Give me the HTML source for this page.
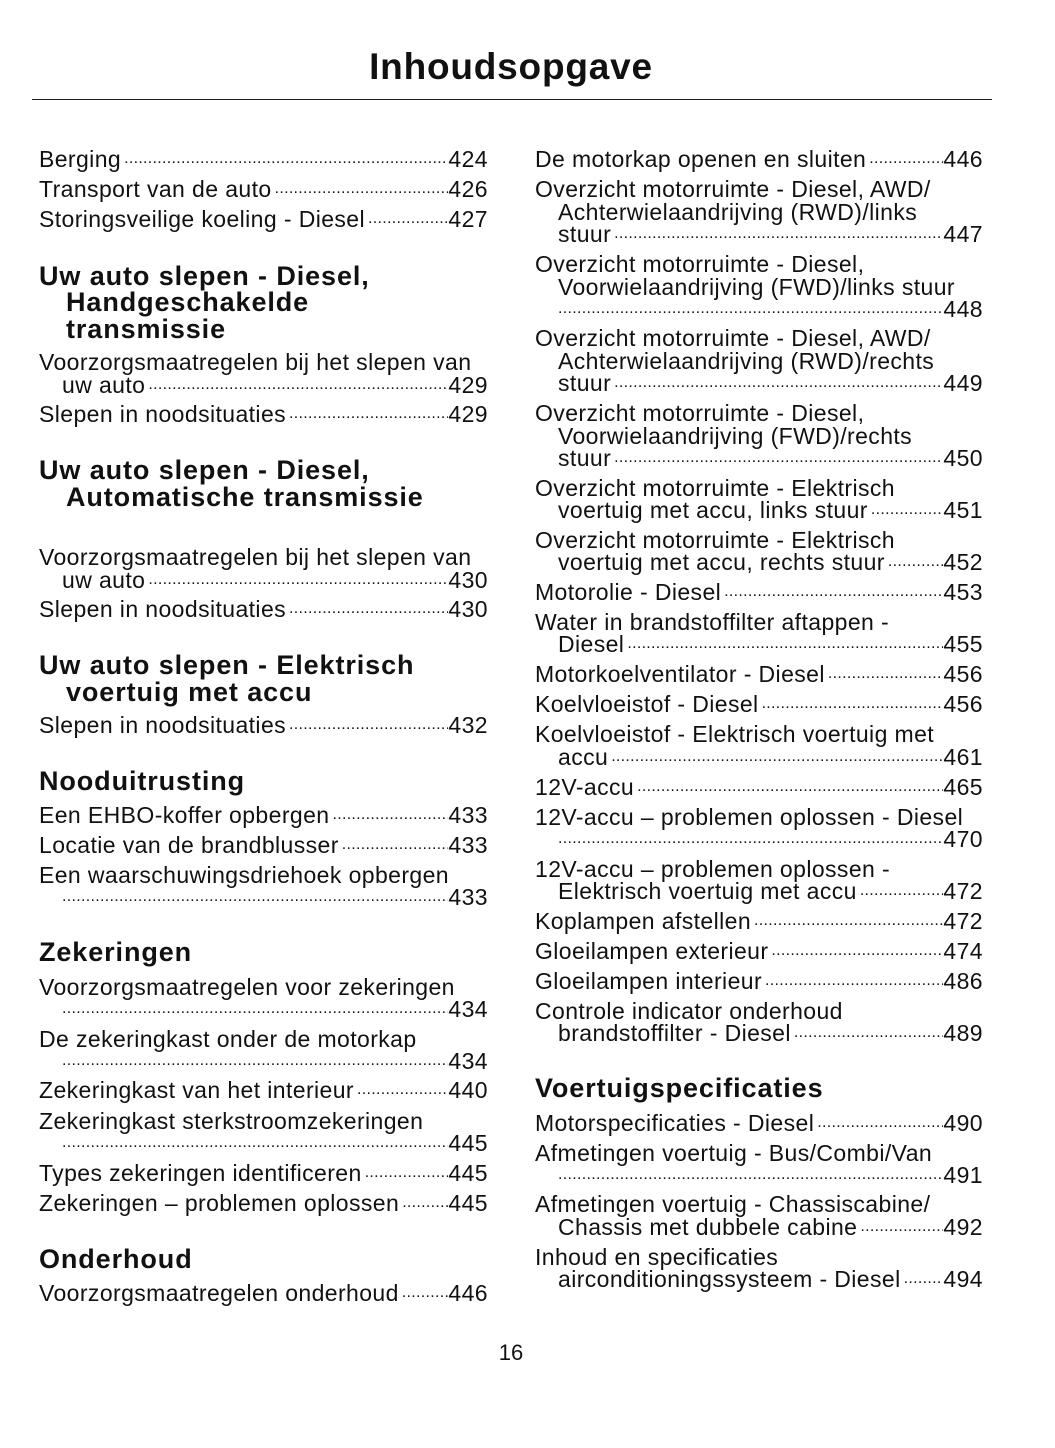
<!DOCTYPE html>
<html><head><meta charset="utf-8">
<style>
body{margin:0;width:1055px;height:1448px;background:#fff;position:relative;font-family:"Liberation Sans",sans-serif;color:#111;overflow:hidden}
.t{position:absolute;left:0;width:1022px;text-align:center;top:45px;font-size:37px;letter-spacing:0.8px;font-weight:bold;line-height:44px}
.rule{position:absolute;left:32px;width:960px;top:99px;height:1px;background:#222}
.l{position:absolute;height:26px;line-height:26px;font-size:23px;letter-spacing:0.4px;white-space:nowrap;display:flex}
.L{left:39px;width:449px}.Li{left:62px;width:426px}
.R{left:535px;width:448px}.Ri{left:558px;width:425px}
.d{flex:1;overflow:hidden;font-size:16px;letter-spacing:0.3px;padding-left:3px}
.h{position:absolute;font-size:27px;letter-spacing:0.9px;font-weight:bold;line-height:30px;white-space:nowrap}
.pn{position:absolute;left:0;width:1022px;text-align:center;top:1340px;font-size:22px}
</style></head><body>
<div class="t">Inhoudsopgave</div>
<div class="rule"></div>

<div class="l L" style="top:146px"><span>Berging</span><span class="d">........................................................................................................................................</span><span>424</span></div>
<div class="l L" style="top:176px"><span>Transport van de auto</span><span class="d">........................................................................................................................................</span><span>426</span></div>
<div class="l L" style="top:206px"><span>Storingsveilige koeling - Diesel</span><span class="d">........................................................................................................................................</span><span>427</span></div>

<div class="h" style="left:39px;top:261px">Uw auto slepen - Diesel,</div>
<div class="h" style="left:66px;top:287px">Handgeschakelde</div>
<div class="h" style="left:66px;top:314px">transmissie</div>
<div class="l L" style="top:349px"><span>Voorzorgsmaatregelen bij het slepen van</span></div>
<div class="l Li" style="top:372px"><span>uw auto</span><span class="d">........................................................................................................................................</span><span>429</span></div>
<div class="l L" style="top:401px"><span>Slepen in noodsituaties</span><span class="d">........................................................................................................................................</span><span>429</span></div>

<div class="h" style="left:39px;top:455px">Uw auto slepen - Diesel,</div>
<div class="h" style="left:66px;top:482px">Automatische transmissie</div>
<div class="l L" style="top:544px"><span>Voorzorgsmaatregelen bij het slepen van</span></div>
<div class="l Li" style="top:567px"><span>uw auto</span><span class="d">........................................................................................................................................</span><span>430</span></div>
<div class="l L" style="top:596px"><span>Slepen in noodsituaties</span><span class="d">........................................................................................................................................</span><span>430</span></div>

<div class="h" style="left:39px;top:650px">Uw auto slepen - Elektrisch</div>
<div class="h" style="left:66px;top:677px">voertuig met accu</div>
<div class="l L" style="top:712px"><span>Slepen in noodsituaties</span><span class="d">........................................................................................................................................</span><span>432</span></div>

<div class="h" style="left:39px;top:766px">Nooduitrusting</div>
<div class="l L" style="top:802px"><span>Een EHBO-koffer opbergen</span><span class="d">........................................................................................................................................</span><span>433</span></div>
<div class="l L" style="top:832px"><span>Locatie van de brandblusser</span><span class="d">........................................................................................................................................</span><span>433</span></div>
<div class="l L" style="top:862px"><span>Een waarschuwingsdriehoek opbergen</span></div>
<div class="l Li" style="top:884px"><span class="d" style="padding-left:0">........................................................................................................................................</span><span>433</span></div>

<div class="h" style="left:39px;top:937px">Zekeringen</div>
<div class="l L" style="top:974px"><span>Voorzorgsmaatregelen voor zekeringen</span></div>
<div class="l Li" style="top:996px"><span class="d" style="padding-left:0">........................................................................................................................................</span><span>434</span></div>
<div class="l L" style="top:1026px"><span>De zekeringkast onder de motorkap</span></div>
<div class="l Li" style="top:1048px"><span class="d" style="padding-left:0">........................................................................................................................................</span><span>434</span></div>
<div class="l L" style="top:1077px"><span>Zekeringkast van het interieur</span><span class="d">........................................................................................................................................</span><span>440</span></div>
<div class="l L" style="top:1108px"><span>Zekeringkast sterkstroomzekeringen</span></div>
<div class="l Li" style="top:1130px"><span class="d" style="padding-left:0">........................................................................................................................................</span><span>445</span></div>
<div class="l L" style="top:1160px"><span>Types zekeringen identificeren</span><span class="d">........................................................................................................................................</span><span>445</span></div>
<div class="l L" style="top:1190px"><span>Zekeringen – problemen oplossen</span><span class="d">........................................................................................................................................</span><span>445</span></div>

<div class="h" style="left:39px;top:1244px">Onderhoud</div>
<div class="l L" style="top:1280px"><span>Voorzorgsmaatregelen onderhoud</span><span class="d">........................................................................................................................................</span><span>446</span></div>

<!-- right column -->
<div class="l R" style="top:146px"><span>De motorkap openen en sluiten</span><span class="d">........................................................................................................................................</span><span>446</span></div>
<div class="l R" style="top:176px"><span>Overzicht motorruimte - Diesel, AWD/</span></div>
<div class="l Ri" style="top:199px"><span>Achterwielaandrijving (RWD)/links</span></div>
<div class="l Ri" style="top:221px"><span>stuur</span><span class="d">........................................................................................................................................</span><span>447</span></div>
<div class="l R" style="top:251px"><span>Overzicht motorruimte - Diesel,</span></div>
<div class="l Ri" style="top:274px"><span>Voorwielaandrijving (FWD)/links stuur</span></div>
<div class="l Ri" style="top:296px"><span class="d" style="padding-left:0">........................................................................................................................................</span><span>448</span></div>
<div class="l R" style="top:325px"><span>Overzicht motorruimte - Diesel, AWD/</span></div>
<div class="l Ri" style="top:348px"><span>Achterwielaandrijving (RWD)/rechts</span></div>
<div class="l Ri" style="top:370px"><span>stuur</span><span class="d">........................................................................................................................................</span><span>449</span></div>
<div class="l R" style="top:400px"><span>Overzicht motorruimte - Diesel,</span></div>
<div class="l Ri" style="top:423px"><span>Voorwielaandrijving (FWD)/rechts</span></div>
<div class="l Ri" style="top:445px"><span>stuur</span><span class="d">........................................................................................................................................</span><span>450</span></div>
<div class="l R" style="top:475px"><span>Overzicht motorruimte - Elektrisch</span></div>
<div class="l Ri" style="top:497px"><span>voertuig met accu, links stuur</span><span class="d">........................................................................................................................................</span><span>451</span></div>
<div class="l R" style="top:527px"><span>Overzicht motorruimte - Elektrisch</span></div>
<div class="l Ri" style="top:549px"><span>voertuig met accu, rechts stuur</span><span class="d">........................................................................................................................................</span><span>452</span></div>
<div class="l R" style="top:579px"><span>Motorolie - Diesel</span><span class="d">........................................................................................................................................</span><span>453</span></div>
<div class="l R" style="top:609px"><span>Water in brandstoffilter aftappen -</span></div>
<div class="l Ri" style="top:631px"><span>Diesel</span><span class="d">........................................................................................................................................</span><span>455</span></div>
<div class="l R" style="top:661px"><span>Motorkoelventilator - Diesel</span><span class="d">........................................................................................................................................</span><span>456</span></div>
<div class="l R" style="top:691px"><span>Koelvloeistof - Diesel</span><span class="d">........................................................................................................................................</span><span>456</span></div>
<div class="l R" style="top:721px"><span>Koelvloeistof - Elektrisch voertuig met</span></div>
<div class="l Ri" style="top:744px"><span>accu</span><span class="d">........................................................................................................................................</span><span>461</span></div>
<div class="l R" style="top:774px"><span>12V-accu</span><span class="d">........................................................................................................................................</span><span>465</span></div>
<div class="l R" style="top:804px"><span>12V-accu – problemen oplossen - Diesel</span></div>
<div class="l Ri" style="top:826px"><span class="d" style="padding-left:0">........................................................................................................................................</span><span>470</span></div>
<div class="l R" style="top:856px"><span>12V-accu – problemen oplossen -</span></div>
<div class="l Ri" style="top:878px"><span>Elektrisch voertuig met accu</span><span class="d">........................................................................................................................................</span><span>472</span></div>
<div class="l R" style="top:908px"><span>Koplampen afstellen</span><span class="d">........................................................................................................................................</span><span>472</span></div>
<div class="l R" style="top:938px"><span>Gloeilampen exterieur</span><span class="d">........................................................................................................................................</span><span>474</span></div>
<div class="l R" style="top:968px"><span>Gloeilampen interieur</span><span class="d">........................................................................................................................................</span><span>486</span></div>
<div class="l R" style="top:998px"><span>Controle indicator onderhoud</span></div>
<div class="l Ri" style="top:1020px"><span>brandstoffilter - Diesel</span><span class="d">........................................................................................................................................</span><span>489</span></div>

<div class="h" style="left:535px;top:1073px">Voertuigspecificaties</div>
<div class="l R" style="top:1110px"><span>Motorspecificaties - Diesel</span><span class="d">........................................................................................................................................</span><span>490</span></div>
<div class="l R" style="top:1140px"><span>Afmetingen voertuig - Bus/Combi/Van</span></div>
<div class="l Ri" style="top:1162px"><span class="d" style="padding-left:0">........................................................................................................................................</span><span>491</span></div>
<div class="l R" style="top:1191px"><span>Afmetingen voertuig - Chassiscabine/</span></div>
<div class="l Ri" style="top:1214px"><span>Chassis met dubbele cabine</span><span class="d">........................................................................................................................................</span><span>492</span></div>
<div class="l R" style="top:1244px"><span>Inhoud en specificaties</span></div>
<div class="l Ri" style="top:1266px"><span>airconditioningssysteem - Diesel</span><span class="d">........................................................................................................................................</span><span>494</span></div>

<div class="pn">16</div>
</body></html>
